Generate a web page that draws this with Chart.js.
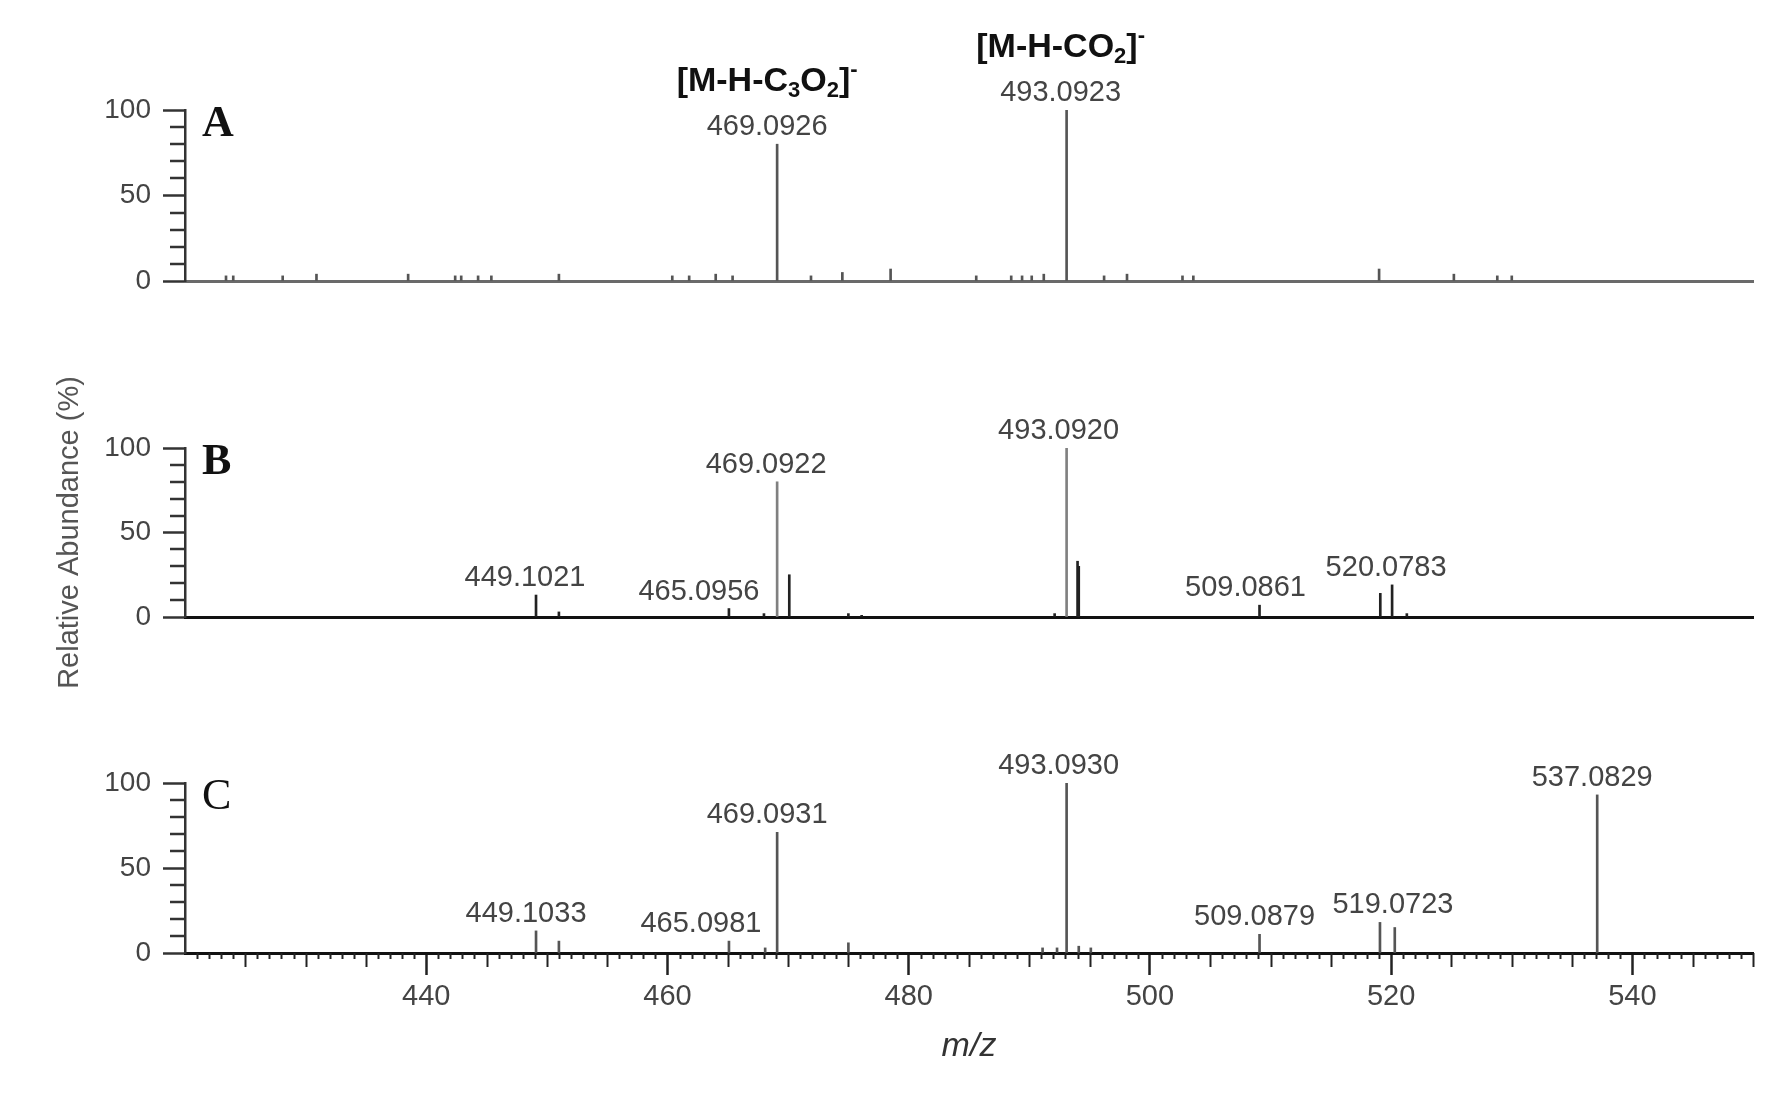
<!DOCTYPE html>
<html>
<head>
<meta charset="utf-8">
<script src="https://cdn.jsdelivr.net/npm/chart.js@4.4.1/dist/chart.umd.min.js"></script>
<style>
  html, body { margin: 0; padding: 0; background: #fff; }
  #wrap { position: relative; width: 1792px; height: 1096px; overflow: hidden; }
  #wrap canvas { position: absolute; left: 0; top: 0; }
</style>
</head>
<body>
<div id="wrap">
  <canvas id="panelA" width="1792" height="1096"></canvas>
  <canvas id="panelB" width="1792" height="1096"></canvas>
  <canvas id="panelC" width="1792" height="1096"></canvas>
</div>
<script>
// axis ranges / tick labels
const mzRange = [420, 550];
const xTickLabels = [440, 460, 480, 500, 520, 540];
const yTickLabels = [0, 50, 100];

// panel A
const mzA = [423.4, 424.0, 428.1, 430.9, 438.5, 442.4, 442.9, 444.3, 445.4, 451.0, 460.4, 461.8, 464.0, 465.4,
    469.0926, 471.9, 474.5, 478.5, 485.6, 488.5, 489.4, 490.2, 491.2, 493.0923, 496.2, 498.1, 502.7, 503.6,
    519.0, 525.2, 528.8, 530.0];
const abundA = [3, 3, 3, 4, 4, 3, 3, 3, 3, 4, 3, 3, 4, 3,
    80, 3, 5, 7, 3, 3, 3, 3, 4, 100, 3, 4, 3, 3,
    7, 4, 3, 3];
const labelledA = [469.0926, 493.0923];
const ionPeaksA = [469.0926, 493.0923];
const ionNamesA = ['[M-H-C3O2]-', '[M-H-CO2]-'];

// panel B
const mzB = [449.1021, 451.0, 465.0956, 468.0, 469.0922, 470.1, 475.0, 476.1, 492.1, 493.0920, 494.0, 494.1,
    509.0861, 519.1, 520.0783, 521.3];
const abundB = [13, 3, 5, 2, 80, 25, 2, 1, 2, 100, 33, 30, 7, 14, 19, 2];
const labelledB = [449.1021, 465.0956, 469.0922, 493.0920, 509.0861, 520.0783];

// panel C
const mzC = [449.1033, 451.0, 465.0981, 468.1, 469.0931, 475.0, 491.1, 492.3, 493.0930, 494.1, 495.1,
    509.0879, 519.0723, 520.3, 537.0829];
const abundC = [13, 7, 7, 3, 71, 6, 3, 3, 100, 4, 3, 11, 18, 15, 93];
const labelledC = [449.1033, 465.0981, 469.0931, 493.0930, 509.0879, 519.0723, 537.0829];

const SANS = "'Liberation Sans', Arial, sans-serif";
const SERIF = "'Liberation Serif', 'Times New Roman', serif";
Chart.defaults.font.family = SANS;

const AXIS_LEFT = 185;
const CANVAS_H = 1096;

// split "[M-H-C3O2]-" into normal / sub / sup runs
function ionParts(name) {
    const parts = [];
    for (let i = 0; i < name.length; i++) {
        const ch = name[i], prev = name[i - 1] || '';
        let kind = 'n';
        if (/[0-9]/.test(ch) && /[A-Z]/.test(prev)) kind = 'sub';
        else if (ch === '-' && prev === ']') kind = 'sup';
        const last = parts[parts.length - 1];
        if (last && last.kind === kind) last.text += ch;
        else parts.push({ kind, text: ch });
    }
    return parts;
}

const peakMarks = {
    id: 'peakMarks',
    afterDraw(chart, args, opts) {
        const { ctx, chartArea } = chart;
        const x = chart.scales.x, y = chart.scales.y;
        ctx.save();

        // minor y ticks
        ctx.strokeStyle = '#333';
        ctx.lineWidth = 2.5;
        for (let v = 10; v < 100; v += 10) {
            if (v % 50 === 0) continue;
            const py = Math.round(y.getPixelForValue(v));
            ctx.beginPath();
            ctx.moveTo(chartArea.left - 15, py);
            ctx.lineTo(chartArea.left, py);
            ctx.stroke();
        }

        // minor x ticks (bottom panel only)
        if (opts.minorX) {
            ctx.strokeStyle = '#222';
            ctx.lineWidth = 2;
            for (let v = mzRange[0] + 1; v <= mzRange[1]; v++) {
                if (v % 20 === 0) continue;
                const len = v % 5 === 0 ? 14 : 6;
                const px = Math.round(x.getPixelForValue(v)) + 0.5;
                ctx.beginPath();
                ctx.moveTo(px, chartArea.bottom);
                ctx.lineTo(px, chartArea.bottom + len);
                ctx.stroke();
            }
        }

        // peak labels
        ctx.font = '29px ' + SANS;
        ctx.fillStyle = '#444';
        ctx.textAlign = 'center';
        ctx.textBaseline = 'alphabetic';
        const baselines = {};
        opts.labelled.forEach(m => {
            const i = opts.mz.indexOf(m);
            const px = x.getPixelForValue(m) + (opts.shift[m] !== undefined ? opts.shift[m] : -8);
            const base = y.getPixelForValue(opts.abund[i]) - 9;
            baselines[m] = { px, base };
            ctx.fillText(m.toFixed(4), px, base);
        });

        // ion annotations
        if (opts.ionPeaks) {
            opts.ionPeaks.forEach((m, k) => {
                const parts = ionParts(opts.ionNames[k]);
                const fonts = { n: 'bold 34px ' + SANS, sub: 'bold 22px ' + SANS, sup: 'bold 22px ' + SANS };
                const dy = { n: 0, sub: 6, sup: -15 };
                let w = 0;
                parts.forEach(p => { ctx.font = fonts[p.kind]; p.w = ctx.measureText(p.text).width; w += p.w; });
                let cx = baselines[m].px - w / 2;
                const base = baselines[m].base - 44;
                ctx.fillStyle = '#111';
                ctx.textAlign = 'left';
                parts.forEach(p => {
                    ctx.font = fonts[p.kind];
                    ctx.fillText(p.text, cx, base + dy[p.kind]);
                    cx += p.w;
                });
            });
        }

        // panel letter
        ctx.font = opts.letterFont;
        ctx.fillStyle = '#111';
        ctx.textAlign = 'left';
        ctx.fillText(opts.letter, chartArea.left + 17, chartArea.top + 26);
        ctx.restore();
    }
};

function makePanel(id, mz, abund, cfg) {
    const isBottom = !!cfg.bottomAxis;
    return new Chart(document.getElementById(id), {
        type: 'bar',
        data: {
            datasets: [{
                data: mz.map((m, i) => ({ x: m, y: abund[i] })),
                backgroundColor: cfg.barColor,
                barThickness: 2,
                grouped: false
            }]
        },
        options: {
            responsive: false,
            animation: false,
            events: [],
            layout: {
                padding: {
                    top: cfg.top,
                    bottom: isBottom ? 0 : CANVAS_H - cfg.bottom,
                    left: 0,
                    right: 39
                }
            },
            plugins: {
                legend: { display: false },
                tooltip: { enabled: false },
                peakMarks: {
                    mz: mz,
                    abund: abund,
                    labelled: cfg.labelled,
                    shift: cfg.shift || {},
                    ionPeaks: cfg.ionPeaks,
                    ionNames: cfg.ionNames,
                    letter: cfg.letter,
                    letterFont: cfg.letterFont,
                    minorX: isBottom
                }
            },
            scales: {
                x: {
                    type: 'linear',
                    min: mzRange[0],
                    max: mzRange[1],
                    offset: false,
                    afterBuildTicks: s => { s.ticks = xTickLabels.map(v => ({ value: v })); },
                    afterFit: s => { s.height = isBottom ? CANVAS_H - cfg.bottom : 0; },
                    grid: {
                        display: isBottom,
                        offset: false,
                        drawOnChartArea: false,
                        tickLength: 22,
                        tickWidth: 2.5,
                        tickColor: '#222'
                    },
                    border: { display: true, color: cfg.baseColor, width: 3 },
                    ticks: {
                        display: isBottom,
                        autoSkip: false,
                        maxRotation: 0,
                        padding: 5,
                        color: '#444',
                        font: { size: 29 }
                    },
                    title: {
                        display: isBottom,
                        text: 'm/z',
                        color: '#333',
                        font: { size: 34, style: 'italic' },
                        padding: { top: 0, bottom: 29 }
                    }
                },
                y: {
                    min: 0,
                    max: 100,
                    afterBuildTicks: s => { s.ticks = yTickLabels.map(v => ({ value: v })); },
                    afterFit: s => { s.width = AXIS_LEFT; },
                    grid: {
                        drawOnChartArea: false,
                        tickLength: 22,
                        tickWidth: 2.5,
                        tickColor: '#333'
                    },
                    border: { color: '#333', width: 2.5 },
                    ticks: { padding: 12, color: '#444', font: { size: 28 } },
                    title: {
                        display: !!cfg.yTitle,
                        text: 'Relative Abundance (%)',
                        color: '#555',
                        font: { size: 29 },
                        padding: { top: 53, bottom: 0 }
                    }
                }
            }
        },
        plugins: [peakMarks]
    });
}

makePanel('panelA', mzA, abundA, {
    top: 110, bottom: 281,
    barColor: '#555', baseColor: '#6a6a6a',
    labelled: labelledA,
    shift: { 469.0926: -10, 493.0923: -6 },
    ionPeaks: ionPeaksA, ionNames: ionNamesA,
    letter: 'A', letterFont: 'bold 44px ' + SERIF
});

makePanel('panelB', mzB, abundB, {
    top: 448, bottom: 617,
    barColor: ctx => (ctx.raw && ctx.raw.y > 50 ? '#808080' : '#222'),
    baseColor: '#111',
    labelled: labelledB,
    shift: { 449.1021: -11, 465.0956: -30, 469.0922: -11, 509.0861: -14, 520.0783: -6 },
    yTitle: true,
    letter: 'B', letterFont: 'bold 44px ' + SERIF
});

makePanel('panelC', mzC, abundC, {
    top: 783, bottom: 953, bottomAxis: true,
    barColor: '#555', baseColor: '#111',
    labelled: labelledC,
    shift: { 449.1033: -10, 465.0981: -28, 469.0931: -10, 509.0879: -5, 519.0723: 13, 537.0829: -5 },
    letter: 'C', letterFont: '44px ' + SERIF
});
</script>
</body>
</html>
